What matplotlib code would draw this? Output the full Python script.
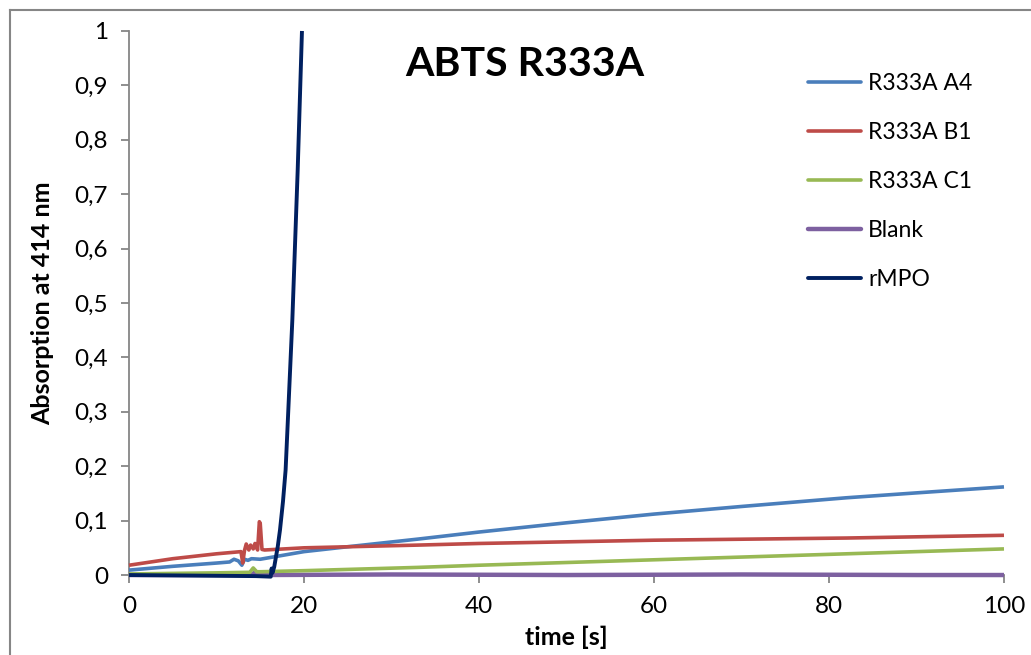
import matplotlib
matplotlib.use("Agg")
import matplotlib.pyplot as plt
from matplotlib.lines import Line2D

plt.rcParams["font.family"] = ["Lato", "DejaVu Sans"]

# Readings from the chart (time in s, absorption at 414 nm)
t_a4 = [0, 5, 10, 11.5, 12.0, 12.5, 12.9, 13.2, 13.6, 14.0, 15, 20, 25, 33, 40,
        50, 60, 70, 82, 90, 100]
a4 = [0.009, 0.016, 0.022, 0.024, 0.029, 0.026, 0.018, 0.029, 0.027, 0.030, 0.029,
      0.043, 0.052, 0.066, 0.079, 0.096, 0.112, 0.126, 0.142, 0.151, 0.162]

t_b1 = [0, 5, 10, 12.8, 13.0, 13.2, 13.4, 13.7, 13.9, 14.2, 14.4, 14.7, 14.9, 15.0,
        15.2, 15.5, 20, 33, 40, 60, 82, 100]
b1 = [0.018, 0.030, 0.039, 0.043, 0.022, 0.045, 0.057, 0.046, 0.055, 0.048, 0.058,
      0.046, 0.098, 0.095, 0.047, 0.046, 0.050, 0.055, 0.058, 0.064, 0.068, 0.073]

t_c1 = [0, 10, 13.8, 14.2, 14.6, 15, 20, 33, 40, 60, 82, 100]
c1 = [0.002, 0.004, 0.005, 0.013, 0.006, 0.006, 0.008, 0.014, 0.018, 0.028, 0.039, 0.048]

t_blank = [0, 14.0, 14.5, 15.0, 30, 50, 70, 90, 100]
blank = [0.0, 0.0, 0.006, 0.0, 0.001, 0.0, 0.001, 0.0, 0.0]

t_rmpo = [0, 14.5, 16.2, 16.3, 16.4, 16.6, 17.0, 17.26, 17.6, 17.9, 18.2, 18.67,
          19.28, 19.77]
rmpo = [0.0, -0.002, -0.003, 0.012, 0.004, 0.015, 0.052, 0.083, 0.135, 0.193, 0.300,
        0.469, 0.744, 1.0]

labels = ["R333A A4", "R333A B1", "R333A C1", "Blank", "rMPO"]
colors = ["#4A7EBB", "#BE4B48", "#98B954", "#7D60A0", "#002060"]

fig = plt.figure(figsize=(10.31, 6.55), dpi=100)
ax = fig.add_axes([0.1251, 0.1221, 0.8487, 0.8306])

# outer chart border (cut off at right/bottom in the source)
grey = "#868686"
fig.add_artist(Line2D([10 / 1031, 10 / 1031], [0, 1 - 10 / 655], color=grey, lw=1.5,
                      transform=fig.transFigure))
fig.add_artist(Line2D([10 / 1031, 1], [1 - 10 / 655, 1 - 10 / 655], color=grey, lw=1.5,
                      transform=fig.transFigure))

series = [(t_a4, a4), (t_b1, b1), (t_c1, c1), (t_blank, blank), (t_rmpo, rmpo)]
widths = [2.6, 2.6, 2.6, 3.2, 2.8]
order = [4, 5, 3, 2, 6]
for (t, y), lab, c, w, z in zip(series, labels, colors, widths, order):
    ax.plot(t, y, color=c, lw=w, label=lab, zorder=z, clip_on=False,
            solid_capstyle="butt", solid_joinstyle="round")

ax.set_xlim(0, 100)
ax.set_ylim(0, 1)
ax.set_xticks(range(0, 101, 20))
yt = [i / 10 for i in range(11)]
ax.set_yticks(yt)
ax.set_yticklabels(["0"] + [f"0,{i}" for i in range(1, 10)] + ["1"])

for s in ["top", "right"]:
    ax.spines[s].set_visible(False)
for s in ["left", "bottom"]:
    ax.spines[s].set_color(grey)
    ax.spines[s].set_linewidth(1.3)
    ax.spines[s].set_zorder(1)
ax.tick_params(axis="both", colors=grey, labelcolor="black", labelsize=17.5,
               length=6, width=1.3)
ax.tick_params(axis="y", pad=9)
ax.tick_params(axis="x", pad=9)

ax.set_xlabel("time [s]", fontsize=18, fontweight="bold", labelpad=6)
ax.set_ylabel("Absorption at 414 nm", fontsize=18, fontweight="bold", labelpad=15)

fig.text(0.509, 0.902, "ABTS R333A", fontsize=29.5, fontweight="bold",
         ha="center", va="center")

leg = ax.legend(loc="upper left", bbox_to_anchor=(0.765, 0.94), frameon=False,
                fontsize=16.5, labelspacing=1.22, handlelength=2.35, handletextpad=0.3,
                borderaxespad=0)
for h in leg.get_lines():
    h.set_solid_capstyle("round")

fig.savefig("out.png", dpi=100)
